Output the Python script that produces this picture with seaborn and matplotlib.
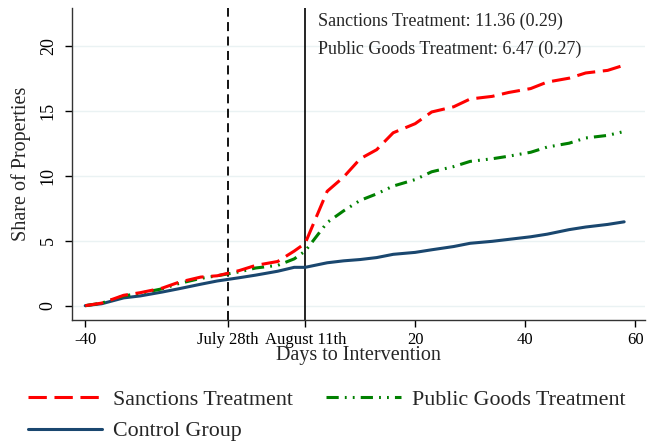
import matplotlib
matplotlib.use("Agg")
import matplotlib.pyplot as plt
import seaborn as sns
import pandas as pd

# Data
days = [-40, -37, -33, -30, -26, -23, -19, -16, -12, -9, -5, -2, 0, 4, 7, 10,
        13, 16, 20, 23, 27, 30, 34, 37, 41, 44, 48, 51, 55, 58]
sanctions = [0.0, 0.2, 0.8, 1.0, 1.35, 1.8, 2.2, 2.3, 2.7, 3.1, 3.4, 4.2, 4.8,
             8.8, 9.9, 11.3, 12.0, 13.3, 14.0, 14.9, 15.3, 15.9, 16.1, 16.4,
             16.7, 17.2, 17.5, 17.9, 18.1, 18.5]
public_goods = [0.0, 0.2, 0.75, 0.95, 1.3, 1.7, 2.1, 2.3, 2.6, 2.9, 3.1, 3.6,
                4.2, 6.4, 7.3, 8.1, 8.6, 9.2, 9.7, 10.3, 10.7, 11.1, 11.3,
                11.5, 11.8, 12.2, 12.5, 12.9, 13.1, 13.4]
control = [0.0, 0.15, 0.6, 0.75, 1.05, 1.3, 1.65, 1.9, 2.15, 2.35, 2.65, 2.95,
           2.95, 3.3, 3.45, 3.55, 3.7, 3.95, 4.1, 4.3, 4.55, 4.8, 4.95, 5.1,
           5.3, 5.5, 5.85, 6.05, 6.25, 6.45]

y_ticks = [0, 5, 10, 15, 20]
x_ticks = [-40, -14, 0, 20, 40, 60]
x_tick_labels = ["-40", "July 28th", "August 11th", "20", "40", "60"]
annotations = ["Sanctions Treatment: 11.36 (0.29)",
               "Public Goods Treatment: 6.47 (0.27)"]

df = pd.DataFrame({"day": days, "sanctions": sanctions,
                   "public": public_goods, "control": control})

sns.set_style("white")
plt.rcParams['font.family'] = ['Liberation Serif', 'DejaVu Serif']

fig = plt.figure(figsize=(6.56, 4.43), dpi=100)
ax = fig.add_axes([0.1098, 0.2777, 0.8735, 0.7043])

# Reference lines
ax.axvline(-14, color="black", linestyle=(0, (5, 3)), linewidth=1.3, zorder=1)
ax.axvline(0, color="black", linestyle="-", linewidth=1.2, zorder=1)

sns.lineplot(data=df, x="day", y="sanctions", ax=ax, color="#ff0000",
             linewidth=2.2, label="Sanctions Treatment", zorder=4)
sns.lineplot(data=df, x="day", y="public", ax=ax, color="#008000",
             linewidth=2.2, label="Public Goods Treatment", zorder=3)
sns.lineplot(data=df, x="day", y="control", ax=ax, color="#1a476f",
             linewidth=2.2, label="Control Group", zorder=2)
lines = ax.get_lines()
lines[2].set_dashes((6, 2.5))
lines[3].set_dashes((4, 2, 0.6, 2, 0.6, 2))

ax.set_xlim(-42.4, 61.8)
ax.set_ylim(-1.1, 22.9)
ax.set_yticks(y_ticks)
ax.set_yticklabels([str(t) for t in y_ticks], rotation=90, va="center")
ax.set_xticks(x_ticks)
ax.set_xticklabels(x_tick_labels)
ax.tick_params(axis="both", direction="out", length=5, width=1, labelsize=12,
               colors="black", bottom=True, left=True)
ax.tick_params(axis="y", pad=6, labelsize=13)
ax.grid(axis="y", color="#eaf2f3", linewidth=1)
ax.set_axisbelow(True)

for s in ["top", "right"]:
    ax.spines[s].set_visible(False)
for s in ["left", "bottom"]:
    ax.spines[s].set_color("#333333")
    ax.spines[s].set_linewidth(1)

ax.set_xlabel("Days to Intervention", fontsize=14.5, labelpad=-1)
ax.set_ylabel("Share of Properties", fontsize=14.5, labelpad=6)

ax.text(2.4, 21.85, annotations[0], fontsize=13, va="center", ha="left")
ax.text(2.4, 19.7, annotations[1], fontsize=13, va="center", ha="left")

handles, labels = ax.get_legend_handles_labels()
ax.get_legend().remove()
# column-wise fill: Sanctions / Control in first column, Public Goods in second
order = [0, 2, 1]
fig.legend([handles[i] for i in order], [labels[i] for i in order],
           loc="lower left", bbox_to_anchor=(0.012, -0.041), ncol=2,
           frameon=False, fontsize=15.8, handlelength=3.4,
           columnspacing=1.5, handletextpad=0.5, labelspacing=0.5)

fig.savefig("out.png", dpi=100, facecolor="white")
